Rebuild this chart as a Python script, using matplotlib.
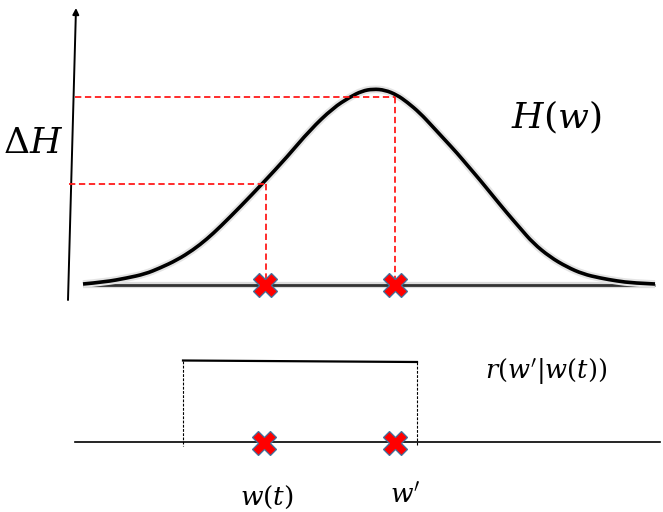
import matplotlib
matplotlib.use("Agg")
import matplotlib.pyplot as plt
from matplotlib.path import Path
from matplotlib.patches import PathPatch

plt.rcParams['mathtext.fontset'] = 'dejavuserif'

# ---- data (diagram units: x to the right, y downward) ----
curve_x = [83, 105, 127, 145, 160, 177, 193, 207, 220, 240, 263, 287, 310, 333, 350,
           362, 373, 385, 397, 407, 420, 433, 445, 457, 468, 480, 493, 507, 520, 533,
           550, 567, 583, 600, 617, 633, 655]
curve_y = [284, 282, 278, 274, 268, 260, 250, 239, 227, 207, 183, 157, 130, 108, 97,
           91, 89, 90, 95, 102, 113, 127, 140, 153, 166, 180, 196, 213, 228, 243,
           257, 267, 274, 278, 281, 283, 284]

baseline_top = 284.5
baseline_bottom = 442
w_t = 265          # current state w(t)
w_prime = 395      # proposal w'
H_wt = 184         # level of H(w(t)) on the vertical axis
H_wp = 97          # level of H(w') on the vertical axis
window_left = 183  # support of proposal r(w'|w(t))
window_right = 417
window_top = [360.5, 362]

fig = plt.figure(figsize=(6.63, 5.12), dpi=100)
ax = fig.add_axes([0, 0, 1, 1])
ax.set_xlim(0, 663)
ax.set_ylim(512, 0)
ax.axis('off')


def smooth_path(xs, ys):
    """Quadratic B-spline style path: read points act as control points."""
    pts = list(zip(xs, ys))
    verts = [pts[0]]
    codes = [Path.MOVETO]
    for i in range(1, len(pts) - 1):
        p, q = pts[i], pts[i + 1]
        end = q if i == len(pts) - 2 else ((p[0] + q[0]) / 2, (p[1] + q[1]) / 2)
        verts += [p, end]
        codes += [Path.CURVE3, Path.CURVE3]
    return Path(verts, codes)


# ---- upper panel ----
ax.annotate('', xy=(76, 8), xytext=(68, 300),
            arrowprops=dict(arrowstyle='-|>', lw=1.4, color='black',
                            mutation_scale=9, shrinkA=0, shrinkB=0))
ax.plot([83, 655], [baseline_top, baseline_top], color='#dcdcdc', lw=4.5,
        solid_capstyle='butt', zorder=1)
ax.plot([83, 655], [baseline_top, baseline_top], color='#333333', lw=2.0,
        solid_capstyle='butt', zorder=2)

curve_path = smooth_path(curve_x, curve_y)
ax.add_patch(PathPatch(curve_path, fill=False, edgecolor='#e4e4e4', lw=5.5, zorder=2))
ax.add_patch(PathPatch(curve_path, fill=False, edgecolor='black', lw=2.6, zorder=3))

red_ls = (0, (3.5, 2))
ax.plot([75, w_prime], [H_wp, H_wp], color='#ff1a1a', lw=1.3, ls=red_ls, zorder=4)
ax.plot([w_prime, w_prime], [H_wp, 280], color='#ff1a1a', lw=1.3, ls=red_ls, zorder=4)
ax.plot([69, w_t], [H_wt, H_wt], color='#ff1a1a', lw=1.3, ls=red_ls, zorder=4)
ax.plot([w_t + 1, w_t + 1], [H_wt, 280], color='#ff1a1a', lw=1.3, ls=red_ls, zorder=4)

ax.plot([w_t, w_prime], [baseline_top + 0.5, baseline_top + 0.5], ls='none',
        marker='X', ms=17, mfc='#ff0000', mec='#41719c', mew=0.9, zorder=5)

ax.text(33, 143, r'$\Delta H$', fontsize=26, ha='center', va='center')
ax.text(556, 117, r'$H(w)$', fontsize=26, ha='center', va='center')

# ---- lower panel ----
ax.plot([75, 660], [baseline_bottom, baseline_bottom], color='black', lw=1.2, zorder=1)
ax.plot([window_left, window_right], window_top, color='black', lw=1.6, zorder=2)
ax.plot([window_left, window_left], [window_top[0], 446], color='black', lw=0.8,
        ls=(0, (2.5, 1.3)), zorder=2)
ax.plot([window_right, window_right], [window_top[1], 446], color='black', lw=0.8,
        ls=(0, (2.5, 1.3)), zorder=2)
ax.plot([w_t - 1, w_prime], [baseline_bottom + 1, baseline_bottom + 1], ls='none',
        marker='X', ms=17, mfc='#ff0000', mec='#41719c', mew=0.9, zorder=5)

ax.text(546, 372, r"$r(w'|w(t))$", fontsize=18.5, ha='center', va='center')
ax.text(267, 497, r'$w(t)$', fontsize=19, ha='center', va='center')
ax.text(405, 497, r"$w'$", fontsize=19, ha='center', va='center')

fig.savefig('out.png', dpi=100)
